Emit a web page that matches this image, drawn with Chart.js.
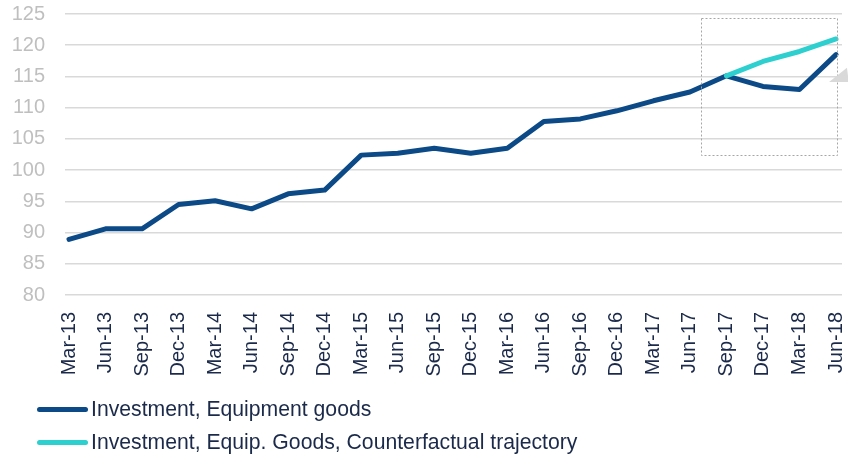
<!DOCTYPE html>
<html>
<head>
<meta charset="utf-8">
<script src="https://cdn.jsdelivr.net/npm/chart.js@4"></script>
<style>
  html, body { margin: 0; padding: 0; background: #ffffff; }
  #wrap { position: relative; width: 848px; height: 456px; overflow: hidden; }
  #c { position: absolute; left: 0; top: 0; }
  .leg { position: absolute; left: 0; height: 24px; font-family: "Liberation Sans", Arial, sans-serif; font-size: 21.2px; color: #1b2a4a; white-space: nowrap; }
  .leg .sw { position: absolute; left: 37px; top: 10px; width: 51px; height: 5px; border-radius: 3px; }
  .leg .tx { position: absolute; left: 91px; top: 0; line-height: 24px; }
</style>
</head>
<body>
<div id="wrap">
  <canvas id="c" width="848" height="456"></canvas>
  <div class="leg" style="top:397px"><div class="sw" style="background:#0b4a86"></div><div class="tx">Investment, Equipment goods</div></div>
  <div class="leg" style="top:430px"><div class="sw" style="background:#2ecfcf"></div><div class="tx">Investment, Equip. Goods, Counterfactual trajectory</div></div>
</div>
<script>
const categories = ["Mar-13","Jun-13","Sep-13","Dec-13","Mar-14","Jun-14","Sep-14","Dec-14","Mar-15","Jun-15","Sep-15","Dec-15","Mar-16","Jun-16","Sep-16","Dec-16","Mar-17","Jun-17","Sep-17","Dec-17","Mar-18","Jun-18"];
const equipment = [88.9, 90.6, 90.6, 94.5, 95.1, 93.8, 96.2, 96.8, 102.4, 102.7, 103.5, 102.7, 103.5, 107.8, 108.2, 109.5, 111.1, 112.5, 115.1, 113.4, 112.9, 118.5];
const counterfactual = [null, null, null, null, null, null, null, null, null, null, null, null, null, null, null, null, null, null, 115.1, 117.4, 119.0, 121.0];
const yTicks = [80, 85, 90, 95, 100, 105, 110, 115, 120, 125];
const legendLabels = ["Investment, Equipment goods", "Investment, Equip. Goods, Counterfactual trajectory"];
const highlightBox = { x0: 17.31, x1: 21.03, y0: 102.4, y1: 124.4 };
const arrowWedge = [[20.81, 114.1], [21.3, 116.4], [21.35, 114.1]];

const toXY = arr => arr.map((v, i) => ({ x: i, y: v }));
const FONT = "'Liberation Sans', Arial, sans-serif";

const decor = {
  id: 'decor',
  afterDatasetsDraw(chart) {
    const { ctx, scales: { x, y } } = chart;
    ctx.save();
    ctx.strokeStyle = '#a6a6a6';
    ctx.lineWidth = 1;
    ctx.setLineDash([2, 2]);
    const l = x.getPixelForValue(highlightBox.x0), r = x.getPixelForValue(highlightBox.x1);
    const t = y.getPixelForValue(highlightBox.y1), b = y.getPixelForValue(highlightBox.y0);
    ctx.strokeRect(Math.round(l) + 0.5, Math.round(t) + 0.5, Math.round(r - l), Math.round(b - t));
    ctx.setLineDash([]);
    ctx.fillStyle = '#d9d9d9';
    ctx.beginPath();
    arrowWedge.forEach((p, i) => {
      const px = x.getPixelForValue(p[0]), py = y.getPixelForValue(p[1]);
      if (i === 0) ctx.moveTo(px, py); else ctx.lineTo(px, py);
    });
    ctx.closePath();
    ctx.fill();
    ctx.restore();
  }
};

new Chart(document.getElementById('c'), {
  type: 'line',
  data: {
    datasets: [
      { label: legendLabels[0], data: toXY(equipment), borderColor: '#0b4a86', backgroundColor: '#0b4a86', borderWidth: 5, pointRadius: 0, tension: 0, borderCapStyle: 'round', borderJoinStyle: 'round', order: 1 },
      { label: legendLabels[1], data: toXY(counterfactual), borderColor: '#2ecfcf', backgroundColor: '#2ecfcf', borderWidth: 5, pointRadius: 0, tension: 0, borderCapStyle: 'round', borderJoinStyle: 'round', order: 0, spanGaps: false }
    ]
  },
  options: {
    responsive: false,
    animation: false,
    devicePixelRatio: 1,
    layout: { padding: { top: 14, right: 6, bottom: 0, left: 0 } },
    plugins: { legend: { display: false }, tooltip: { enabled: false } },
    scales: {
      x: {
        type: 'linear',
        min: -0.1095,
        max: 21.164,
        afterBuildTicks: s => { s.ticks = categories.map((_, i) => ({ value: i })); },
        afterFit: s => { s.height = 161; s.paddingLeft = 0; s.paddingRight = 0; },
        grid: { display: false, drawTicks: false },
        border: { display: false },
        ticks: {
          autoSkip: false,
          minRotation: 90,
          maxRotation: 90,
          padding: 17,
          color: '#1b2a4a',
          font: { family: FONT, size: 20 },
          callback: v => categories[v]
        }
      },
      y: {
        min: 80,
        max: 125,
        afterBuildTicks: s => { s.ticks = yTicks.map(v => ({ value: v })); },
        afterFit: s => { s.width = 65; s.paddingTop = 0; s.paddingBottom = 0; },
        grid: { color: '#d9d9d9', lineWidth: 1.5, drawTicks: false },
        border: { display: false },
        ticks: { padding: 20, color: '#bfbfbf', font: { family: FONT, size: 20 } }
      }
    }
  },
  plugins: [decor]
});
</script>
</body>
</html>
